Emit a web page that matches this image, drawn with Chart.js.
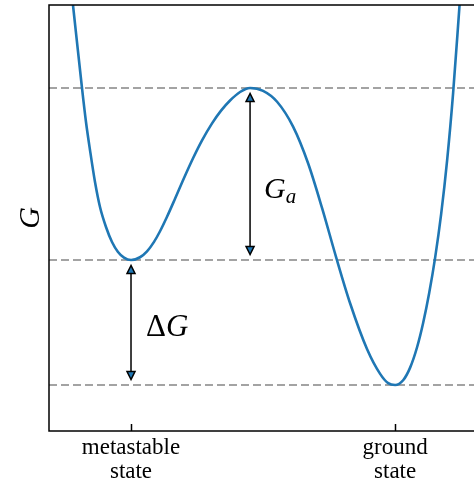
<!DOCTYPE html>
<html>
<head>
<meta charset="utf-8">
<script src="https://cdn.jsdelivr.net/npm/chart.js@4.4.1/dist/chart.umd.min.js"></script>
<style>
  html, body { margin: 0; padding: 0; background: #fff; overflow: hidden; }
  #box { width: 490px; height: 478px; }
</style>
</head>
<body>
<div id="box"><canvas id="chart"></canvas></div>
<script>
// reaction coordinate (metastable = -1, ground = 1) and free energy G
const coord = [
  -1.4394, -1.3712, -1.3409, -1.3106, -1.2727, -1.2348, -1.1894, -1.1439, -1.0985, -1.0530, -1.0,
  -0.9318, -0.8788, -0.8258, -0.7803, -0.7273, -0.6667, -0.5985, -0.5303, -0.4621, -0.3864, -0.3182, -0.25, -0.1742, -0.0985,
  0.0, 0.1061, 0.2273, 0.3409, 0.4470, 0.5530, 0.6591, 0.7879, 0.8864, 0.9470, 1.0,
  1.0606, 1.1136, 1.1667, 1.2121, 1.2576, 1.3030, 1.3485, 1.3939, 1.4394, 1.4879
];
const energy = [
  3.04, 2.376, 2.104, 1.88, 1.624, 1.424, 1.264, 1.144, 1.064, 1.019, 1.0,
  1.022, 1.069, 1.145, 1.230, 1.346, 1.490, 1.656, 1.814, 1.957, 2.093, 2.195, 2.276, 2.344, 2.376,
  2.353, 2.266, 2.067, 1.774, 1.415, 1.023, 0.654, 0.286, 0.089, 0.015, 0.0,
  0.038, 0.139, 0.304, 0.496, 0.734, 1.019, 1.367, 1.799, 2.339, 3.04
];

// dashed reference levels: barrier top, metastable, ground
const levels = [2.376, 1.0, 0];

// x ticks
const tickVals = [-1, 1];
const tickText = [['metastable', 'state'], ['ground', 'state']];

// double arrows (x, from, to) and their labels
const arrowX    = [-1, -0.0985];
const arrowFrom = [1.0, 2.376];
const arrowTo   = [0, 1.0];
const labelX    = [-0.886, 0.008];
const labelG    = [0.392, 1.496];

const xMin = -1.621, xMax = 1.62;
const yMin = -0.368, yMax = 3.04;

const serif = '"Liberation Serif", "Times New Roman", serif';

const datasets = [{
  data: coord.map((c, i) => ({ x: c, y: energy[i] })),
  borderColor: '#1f77b4',
  borderWidth: 2.6,
  pointRadius: 0,
  cubicInterpolationMode: 'monotone',
  fill: false
}];
levels.forEach(l => datasets.push({
  data: [{ x: xMin, y: l }, { x: xMax, y: l }],
  borderColor: '#858585',
  borderWidth: 1.7,
  borderDash: [8, 4],
  pointRadius: 0,
  fill: false
}));

function arrowHead(ctx, x, tipY, dir) {
  // dir = 1 -> pointing up (base below tip), -1 -> pointing down
  const len = 8, half = 4;
  ctx.beginPath();
  ctx.moveTo(x, tipY);
  ctx.lineTo(x - half, tipY + dir * len);
  ctx.lineTo(x + half, tipY + dir * len);
  ctx.closePath();
  ctx.fillStyle = '#1f77b4';
  ctx.fill();
  ctx.stroke();
}

const overlay = {
  id: 'overlay',
  afterDatasetsDraw(chart) {
    const { ctx, scales: { x, y } } = chart;
    ctx.save();
    ctx.strokeStyle = '#000';
    ctx.lineWidth = 1.5;
    const shrink = 5.5;
    arrowX.forEach((ax, i) => {
      const px = x.getPixelForValue(ax);
      const top = y.getPixelForValue(arrowFrom[i]) + shrink;
      const bot = y.getPixelForValue(arrowTo[i]) - shrink;
      ctx.beginPath();
      ctx.moveTo(px, top + 4);
      ctx.lineTo(px, bot - 4);
      ctx.stroke();
      arrowHead(ctx, px, top, 1);
      arrowHead(ctx, px, bot, -1);
    });

    // labels
    ctx.fillStyle = '#000';
    ctx.textBaseline = 'alphabetic';
    ctx.textAlign = 'left';
    let px = x.getPixelForValue(labelX[0]), py = y.getPixelForValue(labelG[0]);
    ctx.font = '31px ' + serif;
    ctx.fillText('Δ', px, py);
    const wD = ctx.measureText('Δ').width;
    ctx.font = 'italic 31px ' + serif;
    ctx.fillText('G', px + wD, py);

    px = x.getPixelForValue(labelX[1]); py = y.getPixelForValue(labelG[1]);
    ctx.font = 'italic 30px ' + serif;
    ctx.fillText('G', px, py);
    const wG = ctx.measureText('G').width;
    ctx.font = 'italic 21px ' + serif;
    ctx.fillText('a', px + wG, py + 5);
    ctx.restore();
  },
  afterDraw(chart) {
    const { ctx, chartArea: a, scales: { x } } = chart;
    ctx.save();
    ctx.strokeStyle = '#000';
    ctx.lineWidth = 1.5;
    ctx.strokeRect(a.left, a.top, a.width, a.height);
    tickVals.forEach(v => {
      const px = Math.round(x.getPixelForValue(v)) + 0.5;
      ctx.beginPath();
      ctx.moveTo(px, a.bottom);
      ctx.lineTo(px, a.bottom - 7);
      ctx.stroke();
    });
    ctx.restore();
  }
};

new Chart(document.getElementById('chart'), {
  type: 'line',
  data: { datasets },
  options: {
    responsive: true,
    maintainAspectRatio: false,
    animation: false,
    layout: { padding: { top: 5, right: 13, left: 0, bottom: 0 } },
    plugins: { legend: { display: false }, tooltip: { enabled: false } },
    scales: {
      x: {
        type: 'linear',
        min: xMin, max: xMax,
        afterBuildTicks: s => { s.ticks = tickVals.map(v => ({ value: v })); },
        afterFit: s => { s.height = 47; },
        grid: { display: false },
        border: { display: false },
        ticks: {
          padding: -3,
          color: '#000',
          maxRotation: 0,
          font: { family: serif, size: 23, lineHeight: 1.05 },
          callback: v => tickText[tickVals.indexOf(v)] || ''
        }
      },
      y: {
        type: 'linear',
        min: yMin, max: yMax,
        afterFit: s => { s.width = 49; },
        grid: { display: false },
        border: { display: false },
        ticks: { display: false },
        title: {
          display: true,
          text: 'G',
          color: '#000',
          padding: { top: 13, bottom: 0 },
          font: { family: serif, size: 30, style: 'italic' }
        }
      }
    }
  },
  plugins: [overlay]
});
</script>
</body>
</html>
